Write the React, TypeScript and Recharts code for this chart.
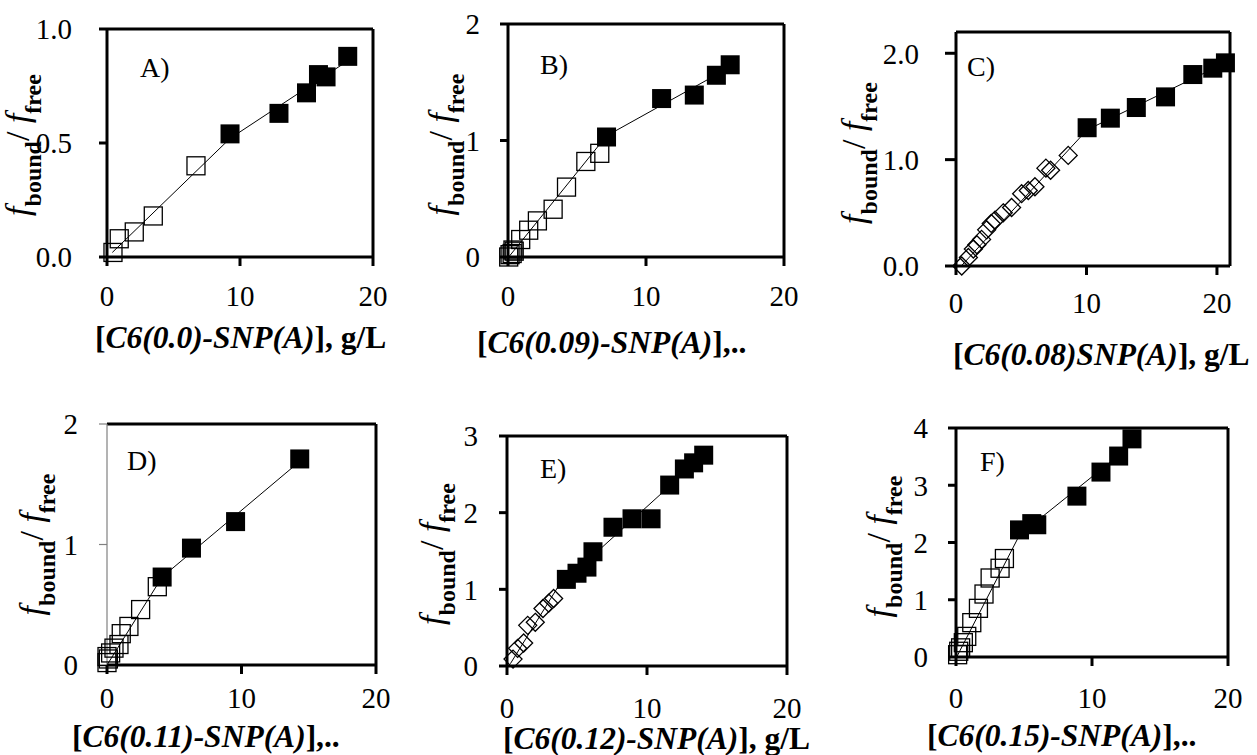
import React from 'react';
import { ScatterChart, Scatter, XAxis, YAxis, ReferenceLine } from 'recharts';

// values: [x in g/L, fbound/ffree]
const aOpen = [{ x: 0.45, y: 0.02 }, { x: 0.92, y: 0.08 }, { x: 2.05, y: 0.11 }, { x: 3.48, y: 0.18 }, { x: 6.69, y: 0.4 }];
const aFilled = [{ x: 9.25, y: 0.54 }, { x: 12.93, y: 0.63 }, { x: 15.0, y: 0.72 }, { x: 15.9, y: 0.8 }, { x: 16.47, y: 0.79 }, { x: 18.1, y: 0.88 }];
const aFit = [{ x: 0.4, y: 0.02 }, { x: 9.25, y: 0.52 }, { x: 18.1, y: 0.86 }];

const bOpen = [{ x: 0.05, y: 0.0 }, { x: 0.15, y: 0.02 }, { x: 0.3, y: 0.03 }, { x: 0.36, y: 0.06 }, { x: 0.45, y: 0.05 }, { x: 0.92, y: 0.15 }, { x: 1.5, y: 0.23 }, { x: 2.13, y: 0.31 }, { x: 3.27, y: 0.41 }, { x: 4.24, y: 0.6 }, { x: 5.64, y: 0.82 }, { x: 6.65, y: 0.89 }];
const bFilled = [{ x: 7.14, y: 1.03 }, { x: 11.13, y: 1.36 }, { x: 13.5, y: 1.39 }, { x: 15.1, y: 1.56 }, { x: 16.1, y: 1.65 }];
const bFit = [{ x: 0.05, y: 0.0 }, { x: 7.14, y: 1.04 }, { x: 16.1, y: 1.63 }];

const cOpen = [{ x: 0.44, y: 0.0 }, { x: 0.95, y: 0.08 }, { x: 1.33, y: 0.16 }, { x: 1.6, y: 0.2 }, { x: 1.96, y: 0.25 }, { x: 2.35, y: 0.34 }, { x: 2.7, y: 0.4 }, { x: 2.99, y: 0.43 }, { x: 3.62, y: 0.5 }, { x: 4.26, y: 0.55 }, { x: 5.03, y: 0.68 }, { x: 5.54, y: 0.71 }, { x: 6.05, y: 0.745 }, { x: 6.89, y: 0.92 }, { x: 7.25, y: 0.9 }, { x: 8.6, y: 1.04 }];
const cFilled = [{ x: 10.05, y: 1.3 }, { x: 11.83, y: 1.39 }, { x: 13.82, y: 1.49 }, { x: 16.06, y: 1.59 }, { x: 18.15, y: 1.8 }, { x: 19.68, y: 1.86 }, { x: 20.65, y: 1.91 }];
const cFit = [{ x: 0.4, y: 0.0 }, { x: 10.05, y: 1.28 }, { x: 20.65, y: 1.91 }];

const dOpen = [{ x: 0.0, y: 0.02 }, { x: 0.1, y: 0.05 }, { x: 0.0, y: 0.07 }, { x: 0.27, y: 0.1 }, { x: 0.52, y: 0.14 }, { x: 0.89, y: 0.17 }, { x: 1.06, y: 0.26 }, { x: 1.63, y: 0.32 }, { x: 2.5, y: 0.46 }, { x: 3.74, y: 0.65 }];
const dFilled = [{ x: 4.1, y: 0.73 }, { x: 6.28, y: 0.97 }, { x: 9.56, y: 1.19 }, { x: 14.33, y: 1.71 }];
const dFit = [{ x: 0.0, y: 0.0 }, { x: 4.1, y: 0.73 }, { x: 14.33, y: 1.69 }];

const eOpen = [{ x: 0.43, y: 0.09 }, { x: 0.76, y: 0.23 }, { x: 1.19, y: 0.3 }, { x: 1.48, y: 0.53 }, { x: 2.02, y: 0.57 }, { x: 2.57, y: 0.75 }, { x: 2.98, y: 0.82 }, { x: 3.33, y: 0.88 }];
const eFilled = [{ x: 4.24, y: 1.13 }, { x: 5.0, y: 1.21 }, { x: 5.71, y: 1.29 }, { x: 6.14, y: 1.49 }, { x: 7.57, y: 1.81 }, { x: 8.93, y: 1.92 }, { x: 10.29, y: 1.92 }, { x: 11.62, y: 2.36 }, { x: 12.67, y: 2.57 }, { x: 13.33, y: 2.65 }, { x: 14.05, y: 2.75 }];
const eFit = [{ x: 0.24, y: 0.03 }, { x: 3.6, y: 1.02 }, { x: 14.05, y: 2.75 }];

const fOpen = [{ x: 0.12, y: 0.04 }, { x: 0.2, y: 0.1 }, { x: 0.34, y: 0.16 }, { x: 0.54, y: 0.25 }, { x: 0.79, y: 0.36 }, { x: 1.16, y: 0.6 }, { x: 1.65, y: 0.85 }, { x: 2.06, y: 1.1 }, { x: 2.51, y: 1.38 }, { x: 3.24, y: 1.55 }, { x: 3.56, y: 1.72 }];
const fFilled = [{ x: 4.67, y: 2.22 }, { x: 5.57, y: 2.33 }, { x: 5.94, y: 2.31 }, { x: 8.89, y: 2.81 }, { x: 10.66, y: 3.23 }, { x: 11.96, y: 3.51 }, { x: 12.94, y: 3.81 }];
const fFit = [{ x: 0.05, y: 0.0 }, { x: 4.67, y: 2.13 }, { x: 12.94, y: 3.71 }];

const xTicks = [0, 10, 20];
const aYTicks = [0, 0.5, 1];
const bYTicks = [0, 1, 2];
const cYTicks = [0, 1, 2];
const dYTicks = [0, 1, 2];
const eYTicks = [0, 1, 2, 3];
const fYTicks = [0, 1, 2, 3, 4];

const FONT = "'Liberation Serif', 'Times New Roman', Times, serif";
const YW = 130;
const XH = 110;
const MT = 25;
const MR = 30;

const OpenSquare = (p: any) => (
  <rect x={p.cx - 9} y={p.cy - 9} width={18} height={18} fill="none" stroke="#000" strokeWidth={1.3} />
);
const FilledSquare = (p: any) => <rect x={p.cx - 9.5} y={p.cy - 9.5} width={19} height={19} fill="#000" />;
const OpenDiamond = (p: any) => (
  <path
    d={`M${p.cx},${p.cy - 9}L${p.cx + 9},${p.cy}L${p.cx},${p.cy + 9}L${p.cx - 9},${p.cy}Z`}
    fill="none"
    stroke="#000"
    strokeWidth={1.3}
  />
);
const NoDot = () => <g />;

const panels = [
  { tag: 'A)', L: 107, R: 373, T: 29, B: 257, xMax: 20, yMax: 1, yTicks: aYTicks, dec: 1, ytm: 27, yts: 8, xtm: 19,
    open: aOpen, filled: aFilled, fit: aFit, diamond: false, title: 'C6(0.0)-SNP(A)', tail: '], g/L',
    tx: 95, ty: 348, ylOff: 78, ylDy: 2, gx: 140, gy: 77, thinY: false },
  { tag: 'B)', L: 508, R: 784, T: 24, B: 257, xMax: 20, yMax: 2, yTicks: bYTicks, dec: 0, ytm: 20, yts: 8, xtm: 19,
    open: bOpen, filled: bFilled, fit: bFit, diamond: false, title: 'C6(0.09)-SNP(A)', tail: '],..',
    tx: 477, ty: 353, ylOff: 56, ylDy: 4, gx: 540, gy: 74, thinY: false },
  { tag: 'C)', L: 956, R: 1230, T: 32, B: 266, xMax: 21, yMax: 2.2, yTicks: cYTicks, dec: 1, ytm: 26, yts: 11, xtm: 17,
    open: cOpen, filled: cFilled, fit: cFit, diamond: true, title: 'C6(0.08)SNP(A)', tail: '], g/L',
    tx: 953, ty: 365, ylOff: 91, ylDy: 4, gx: 967, gy: 76, thinY: false },
  { tag: 'D)', L: 107, R: 376, T: 424, B: 665, xMax: 20, yMax: 2, yTicks: dYTicks, dec: 0, ytm: 21, yts: 8, xtm: 13,
    open: dOpen, filled: dFilled, fit: dFit, diamond: false, title: 'C6(0.11)-SNP(A)', tail: '],..',
    tx: 72, ty: 747, ylOff: 64, ylDy: 0, gx: 127, gy: 470, thinY: true },
  { tag: 'E)', L: 507, R: 787, T: 436, B: 666, xMax: 20, yMax: 3, yTicks: eYTicks, dec: 0, ytm: 21, yts: 8, xtm: 22,
    open: eOpen, filled: eFilled, fit: eFit, diamond: true, title: 'C6(0.12)-SNP(A)', tail: '], g/L',
    tx: 503, ty: 749, ylOff: 64, ylDy: 3, gx: 540, gy: 478, thinY: false },
  { tag: 'F)', L: 956, R: 1228, T: 428, B: 657, xMax: 20, yMax: 4, yTicks: fYTicks, dec: 0, ytm: 20, yts: 8, xtm: 21,
    open: fOpen, filled: fFilled, fit: fFit, diamond: false, title: 'C6(0.15)-SNP(A)', tail: '],..',
    tx: 927, ty: 746, ylOff: 66, ylDy: 4, gx: 980, gy: 471, thinY: false },
];

const Panel = ({ p }: { p: any }) => {
  const left = p.L - YW;
  const top = p.T - MT;
  const w = p.R - p.L + YW + MR;
  const h = p.B - p.T + MT + XH;
  const tickFont = { fill: '#000', fontSize: 29, fontFamily: FONT };
  const ax = { stroke: 'black', strokeWidth: 3 };
  const yax = p.thinY ? { stroke: '#808080', strokeWidth: 1.2 } : ax;

  const yLabel = () => {
    const x = YW - p.ylOff;
    const y = MT + (p.B - p.T) / 2 + p.ylDy;
    return (
      <text x={x} y={y} transform={`rotate(-90, ${x}, ${y})`} textAnchor="middle" fontFamily={FONT} fill="#000">
        <tspan fontStyle="italic" fontSize={34}>f</tspan>
        <tspan fontWeight="bold" fontSize={24} dy={12}>bound</tspan>
        <tspan fontSize={34} dy={-12}>/ </tspan>
        <tspan fontStyle="italic" fontSize={34}>f</tspan>
        <tspan fontWeight="bold" fontSize={24} dy={12}>free</tspan>
      </text>
    );
  };

  const xLabel = () => (
    <g fontFamily={FONT} fill="#000">
      <text x={p.tx - left} y={p.ty - top} fontSize={31.5} fontWeight="bold">
        <tspan>[</tspan>
        <tspan fontStyle="italic">{p.title}</tspan>
        <tspan>{p.tail}</tspan>
      </text>
      <text x={p.gx - left} y={p.gy - top} fontSize={28}>{p.tag}</text>
    </g>
  );

  return (
    <div style={{ position: 'absolute', left, top, width: w, height: h }}>
      <ScatterChart width={w} height={h} margin={{ top: MT, right: MR, left: 0, bottom: 0 }}>
        <XAxis
          type="number"
          dataKey="x"
          domain={[0, p.xMax]}
          ticks={xTicks}
          interval={0}
          height={XH}
          tick={tickFont}
          tickSize={9}
          tickMargin={p.xtm}
          tickLine={ax}
          axisLine={ax}
          label={xLabel}
        />
        <YAxis
          type="number"
          dataKey="y"
          domain={[0, p.yMax]}
          ticks={p.yTicks}
          interval={0}
          width={YW}
          tick={tickFont}
          tickSize={p.yts}
          tickMargin={p.ytm}
          tickLine={yax}
          axisLine={yax}
          tickFormatter={(v: number) => v.toFixed(p.dec)}
          label={yLabel}
        />
        <ReferenceLine y={p.yMax} stroke="black" strokeWidth={3} ifOverflow="visible" />
        <ReferenceLine x={p.xMax} stroke="black" strokeWidth={3} ifOverflow="visible" />
        <Scatter data={p.fit} line={{ stroke: '#000', strokeWidth: 1 }} shape={NoDot} isAnimationActive={false} />
        <Scatter data={p.open} shape={p.diamond ? OpenDiamond : OpenSquare} isAnimationActive={false} />
        <Scatter data={p.filled} shape={FilledSquare} isAnimationActive={false} />
      </ScatterChart>
    </div>
  );
};

export default function App() {
  return (
    <div style={{ position: 'absolute', left: 0, top: 0, width: 1257, height: 755, background: '#fff', overflow: 'hidden' }}>
      {panels.map((p) => (
        <Panel key={p.tag} p={p} />
      ))}
    </div>
  );
}
